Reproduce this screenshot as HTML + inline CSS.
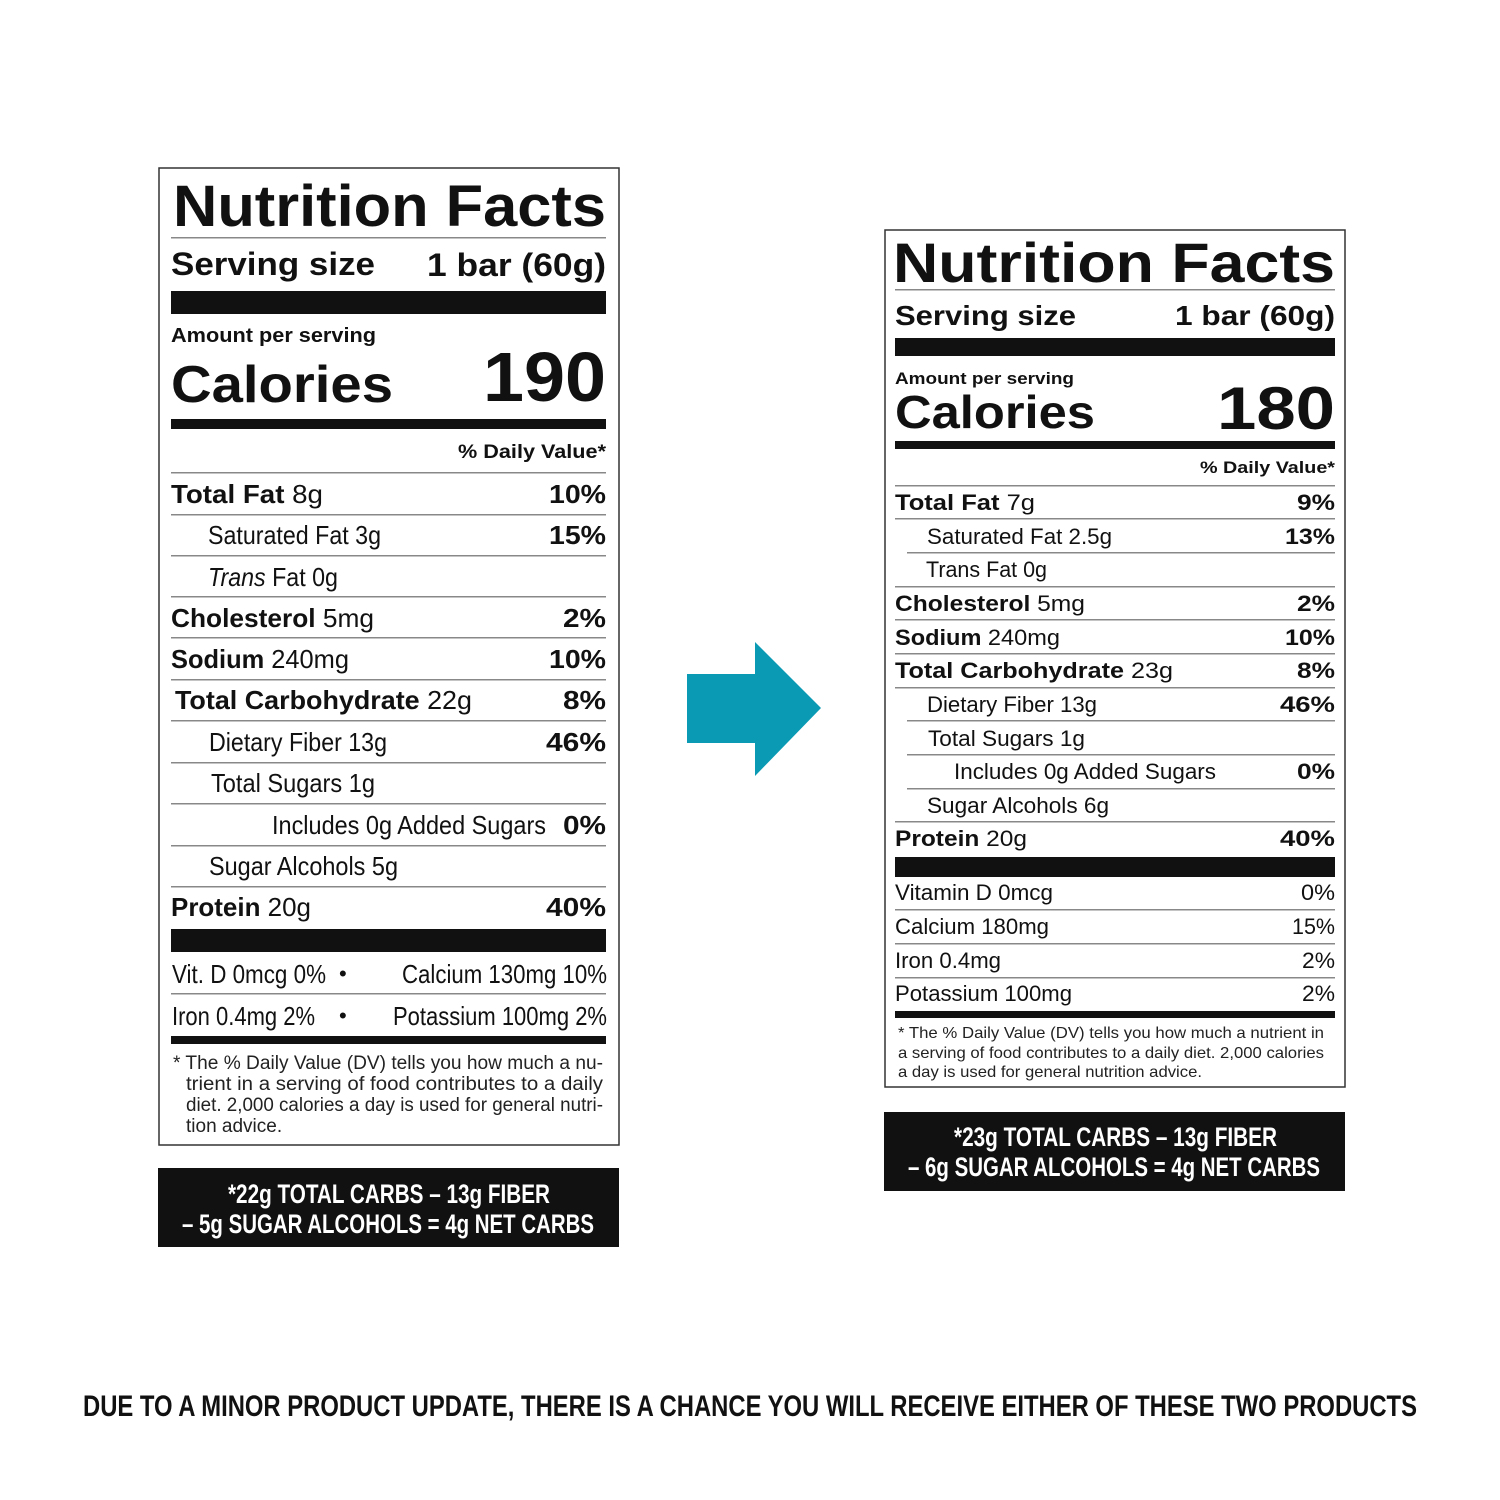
<!DOCTYPE html>
<html><head><meta charset="utf-8">
<style>html,body{margin:0;padding:0;background:#fff;}svg{display:block}</style>
</head><body>
<svg width="1500" height="1500" viewBox="0 0 1500 1500" xmlns="http://www.w3.org/2000/svg" font-family="'Liberation Sans', sans-serif" fill="#111">
<rect width="1500" height="1500" fill="#fff"/>
<g lengthAdjust="spacingAndGlyphs">
<!-- LEFT LABEL -->
<rect x="159" y="168" width="460" height="977" fill="none" stroke="#333" stroke-width="1.5"/>
<text x="173" y="226" font-size="58" font-weight="bold" textLength="433" lengthAdjust="spacingAndGlyphs">Nutrition Facts</text>
<rect x="171" y="237" width="435" height="1.5" fill="#888"/>
<text x="171" y="275" font-size="32" font-weight="bold" textLength="204" lengthAdjust="spacingAndGlyphs">Serving size</text>
<text x="427" y="276" font-size="32" font-weight="bold" textLength="179" lengthAdjust="spacingAndGlyphs">1 bar (60g)</text>
<rect x="171" y="291" width="435" height="23"/>
<text x="171" y="342" font-size="20" font-weight="bold" textLength="205" lengthAdjust="spacingAndGlyphs">Amount per serving</text>
<text x="171" y="402" font-size="52" font-weight="bold" textLength="222" lengthAdjust="spacingAndGlyphs">Calories</text>
<text x="483" y="401" font-size="70" font-weight="bold" textLength="123" lengthAdjust="spacingAndGlyphs">190</text>
<rect x="171" y="419" width="435" height="10"/>
<text x="458" y="458" font-size="19" font-weight="bold" textLength="148" lengthAdjust="spacingAndGlyphs">% Daily Value*</text>
<g fill="#888">
<rect x="171" y="472" width="435" height="1.5"/><rect x="171" y="514" width="435" height="1.5"/><rect x="171" y="555" width="435" height="1.5"/><rect x="171" y="596" width="435" height="1.5"/><rect x="171" y="637" width="435" height="1.5"/><rect x="171" y="679" width="435" height="1.5"/><rect x="171" y="720" width="435" height="1.5"/><rect x="171" y="762" width="435" height="1.5"/><rect x="171" y="803" width="435" height="1.5"/><rect x="171" y="845" width="435" height="1.5"/><rect x="171" y="886" width="435" height="1.5"/><rect x="171" y="993" width="435" height="1.5"/>
</g>
<g font-size="26">
<text x="171" y="503" textLength="152" lengthAdjust="spacingAndGlyphs"><tspan font-weight="bold">Total Fat</tspan> 8g</text>
<text x="549" y="503" font-weight="bold" textLength="57" lengthAdjust="spacingAndGlyphs">10%</text>
<text x="208" y="544" textLength="173" lengthAdjust="spacingAndGlyphs">Saturated Fat 3g</text>
<text x="549" y="544" font-weight="bold" textLength="57" lengthAdjust="spacingAndGlyphs">15%</text>
<text x="208" y="586" textLength="130" lengthAdjust="spacingAndGlyphs"><tspan font-style="italic">Trans</tspan> Fat 0g</text>
<text x="171" y="627" textLength="203" lengthAdjust="spacingAndGlyphs"><tspan font-weight="bold">Cholesterol</tspan> 5mg</text>
<text x="563" y="627" font-weight="bold" textLength="43" lengthAdjust="spacingAndGlyphs">2%</text>
<text x="171" y="668" textLength="178" lengthAdjust="spacingAndGlyphs"><tspan font-weight="bold">Sodium</tspan> 240mg</text>
<text x="549" y="668" font-weight="bold" textLength="57" lengthAdjust="spacingAndGlyphs">10%</text>
<text x="175" y="709" textLength="297" lengthAdjust="spacingAndGlyphs"><tspan font-weight="bold">Total Carbohydrate</tspan> 22g</text>
<text x="563" y="709" font-weight="bold" textLength="43" lengthAdjust="spacingAndGlyphs">8%</text>
<text x="209" y="751" textLength="178" lengthAdjust="spacingAndGlyphs">Dietary Fiber 13g</text>
<text x="546" y="751" font-weight="bold" textLength="60" lengthAdjust="spacingAndGlyphs">46%</text>
<text x="211" y="792" textLength="164" lengthAdjust="spacingAndGlyphs">Total Sugars 1g</text>
<text x="272" y="834" textLength="274" lengthAdjust="spacingAndGlyphs">Includes 0g Added Sugars</text>
<text x="563" y="834" font-weight="bold" textLength="43" lengthAdjust="spacingAndGlyphs">0%</text>
<text x="209" y="875" textLength="189" lengthAdjust="spacingAndGlyphs">Sugar Alcohols 5g</text>
<text x="171" y="916" textLength="140" lengthAdjust="spacingAndGlyphs"><tspan font-weight="bold">Protein</tspan> 20g</text>
<text x="546" y="916" font-weight="bold" textLength="60" lengthAdjust="spacingAndGlyphs">40%</text>
<text x="172" y="983" textLength="154" lengthAdjust="spacingAndGlyphs">Vit. D 0mcg 0%</text>
<text x="339" y="981" font-size="22">•</text>
<text x="402" y="983" textLength="205" lengthAdjust="spacingAndGlyphs">Calcium 130mg 10%</text>
<text x="172" y="1025" textLength="143" lengthAdjust="spacingAndGlyphs">Iron 0.4mg 2%</text>
<text x="339" y="1023" font-size="22">•</text>
<text x="393" y="1025" textLength="214" lengthAdjust="spacingAndGlyphs">Potassium 100mg 2%</text>
</g>
<rect x="171" y="929" width="435" height="23"/>
<rect x="171" y="1036" width="435" height="8"/>
<g font-size="19" fill="#222">
<text x="173" y="1069" textLength="430" lengthAdjust="spacingAndGlyphs">* The % Daily Value (DV) tells you how much a nu-</text>
<text x="186" y="1090" textLength="417" lengthAdjust="spacingAndGlyphs">trient in a serving of food contributes to a daily</text>
<text x="186" y="1111" textLength="417" lengthAdjust="spacingAndGlyphs">diet. 2,000 calories a day is used for general nutri-</text>
<text x="186" y="1132">tion advice.</text>
</g>
<rect x="158" y="1168" width="461" height="79"/>
<g fill="#fff" font-size="27" font-weight="bold">
<text x="228" y="1203" textLength="322" lengthAdjust="spacingAndGlyphs">*22g TOTAL CARBS – 13g FIBER</text>
<text x="182" y="1233" textLength="412" lengthAdjust="spacingAndGlyphs">– 5g SUGAR ALCOHOLS = 4g NET CARBS</text>
</g>

<!-- ARROW -->
<g fill="#0b9ab3">
<rect x="687" y="674" width="70" height="69"/>
<polygon points="755,642 821,708 755,776"/>
</g>

<!-- RIGHT LABEL -->
<rect x="885" y="230" width="460" height="857" fill="none" stroke="#333" stroke-width="1.5"/>
<text x="893" y="282" font-size="56" font-weight="bold" textLength="442" lengthAdjust="spacingAndGlyphs">Nutrition Facts</text>
<rect x="895" y="289" width="440" height="1.5" fill="#888"/>
<text x="895" y="325" font-size="28" font-weight="bold" textLength="181" lengthAdjust="spacingAndGlyphs">Serving size</text>
<text x="1175" y="325" font-size="28" font-weight="bold" textLength="160" lengthAdjust="spacingAndGlyphs">1 bar (60g)</text>
<rect x="895" y="338" width="440" height="18"/>
<text x="895" y="384" font-size="17" font-weight="bold" textLength="179" lengthAdjust="spacingAndGlyphs">Amount per serving</text>
<text x="895" y="428" font-size="46" font-weight="bold" textLength="200" lengthAdjust="spacingAndGlyphs">Calories</text>
<text x="1217" y="429" font-size="60" font-weight="bold" textLength="118" lengthAdjust="spacingAndGlyphs">180</text>
<rect x="895" y="441" width="440" height="8"/>
<text x="1200" y="473" font-size="17" font-weight="bold" textLength="135" lengthAdjust="spacingAndGlyphs">% Daily Value*</text>
<g fill="#888">
<rect x="895" y="485" width="440" height="1.5"/><rect x="895" y="518" width="440" height="1.5"/><rect x="907" y="552" width="428" height="1.5"/><rect x="895" y="586" width="440" height="1.5"/><rect x="895" y="619" width="440" height="1.5"/><rect x="895" y="653" width="440" height="1.5"/><rect x="895" y="687" width="440" height="1.5"/><rect x="907" y="720" width="428" height="1.5"/><rect x="907" y="754" width="428" height="1.5"/><rect x="907" y="788" width="428" height="1.5"/><rect x="895" y="821" width="440" height="1.5"/><rect x="895" y="909" width="440" height="1.5"/><rect x="895" y="943" width="440" height="1.5"/><rect x="895" y="977" width="440" height="1.5"/>
</g>
<g font-size="22">
<text x="895" y="510" textLength="140" lengthAdjust="spacingAndGlyphs"><tspan font-weight="bold">Total Fat</tspan> 7g</text>
<text x="1297" y="510" font-weight="bold" textLength="38" lengthAdjust="spacingAndGlyphs">9%</text>
<text x="927" y="544" textLength="185" lengthAdjust="spacingAndGlyphs">Saturated Fat 2.5g</text>
<text x="1285" y="544" font-weight="bold" textLength="50" lengthAdjust="spacingAndGlyphs">13%</text>
<text x="926" y="577" textLength="121" lengthAdjust="spacingAndGlyphs">Trans Fat 0g</text>
<text x="895" y="611" textLength="190" lengthAdjust="spacingAndGlyphs"><tspan font-weight="bold">Cholesterol</tspan> 5mg</text>
<text x="1297" y="611" font-weight="bold" textLength="38" lengthAdjust="spacingAndGlyphs">2%</text>
<text x="895" y="645" textLength="165" lengthAdjust="spacingAndGlyphs"><tspan font-weight="bold">Sodium</tspan> 240mg</text>
<text x="1285" y="645" font-weight="bold" textLength="50" lengthAdjust="spacingAndGlyphs">10%</text>
<text x="895" y="678" textLength="278" lengthAdjust="spacingAndGlyphs"><tspan font-weight="bold">Total Carbohydrate</tspan> 23g</text>
<text x="1297" y="678" font-weight="bold" textLength="38" lengthAdjust="spacingAndGlyphs">8%</text>
<text x="927" y="712" textLength="170" lengthAdjust="spacingAndGlyphs">Dietary Fiber 13g</text>
<text x="1280" y="712" font-weight="bold" textLength="55" lengthAdjust="spacingAndGlyphs">46%</text>
<text x="928" y="746" textLength="157" lengthAdjust="spacingAndGlyphs">Total Sugars 1g</text>
<text x="954" y="779" textLength="262" lengthAdjust="spacingAndGlyphs">Includes 0g Added Sugars</text>
<text x="1297" y="779" font-weight="bold" textLength="38" lengthAdjust="spacingAndGlyphs">0%</text>
<text x="927" y="813" textLength="182" lengthAdjust="spacingAndGlyphs">Sugar Alcohols 6g</text>
<text x="895" y="846" textLength="132" lengthAdjust="spacingAndGlyphs"><tspan font-weight="bold">Protein</tspan> 20g</text>
<text x="1280" y="846" font-weight="bold" textLength="55" lengthAdjust="spacingAndGlyphs">40%</text>
<text x="895" y="900" textLength="158" lengthAdjust="spacingAndGlyphs">Vitamin D 0mcg</text>
<text x="1301" y="900" textLength="34" lengthAdjust="spacingAndGlyphs">0%</text>
<text x="895" y="934" textLength="154" lengthAdjust="spacingAndGlyphs">Calcium 180mg</text>
<text x="1292" y="934" textLength="43" lengthAdjust="spacingAndGlyphs">15%</text>
<text x="895" y="968" textLength="106" lengthAdjust="spacingAndGlyphs">Iron 0.4mg</text>
<text x="1302" y="968" textLength="33" lengthAdjust="spacingAndGlyphs">2%</text>
<text x="895" y="1001" textLength="177" lengthAdjust="spacingAndGlyphs">Potassium 100mg</text>
<text x="1302" y="1001" textLength="33" lengthAdjust="spacingAndGlyphs">2%</text>
</g>
<rect x="895" y="857" width="440" height="20"/>
<rect x="895" y="1011" width="440" height="7"/>
<g font-size="16" fill="#222">
<text x="898" y="1038" textLength="426" lengthAdjust="spacingAndGlyphs">* The % Daily Value (DV) tells you how much a nutrient in</text>
<text x="898" y="1058" textLength="426" lengthAdjust="spacingAndGlyphs">a serving of food contributes to a daily diet. 2,000 calories</text>
<text x="898" y="1077" textLength="304" lengthAdjust="spacingAndGlyphs">a day is used for general nutrition advice.</text>
</g>
<rect x="884" y="1112" width="461" height="79"/>
<g fill="#fff" font-size="27" font-weight="bold">
<text x="954" y="1146" textLength="323" lengthAdjust="spacingAndGlyphs">*23g TOTAL CARBS – 13g FIBER</text>
<text x="908" y="1176" textLength="412" lengthAdjust="spacingAndGlyphs">– 6g SUGAR ALCOHOLS = 4g NET CARBS</text>
</g>

<text x="83" y="1416" font-size="30" font-weight="bold" textLength="1334" lengthAdjust="spacingAndGlyphs">DUE TO A MINOR PRODUCT UPDATE, THERE IS A CHANCE YOU WILL RECEIVE EITHER OF THESE TWO PRODUCTS</text>
</g>
</svg>
</body></html>
